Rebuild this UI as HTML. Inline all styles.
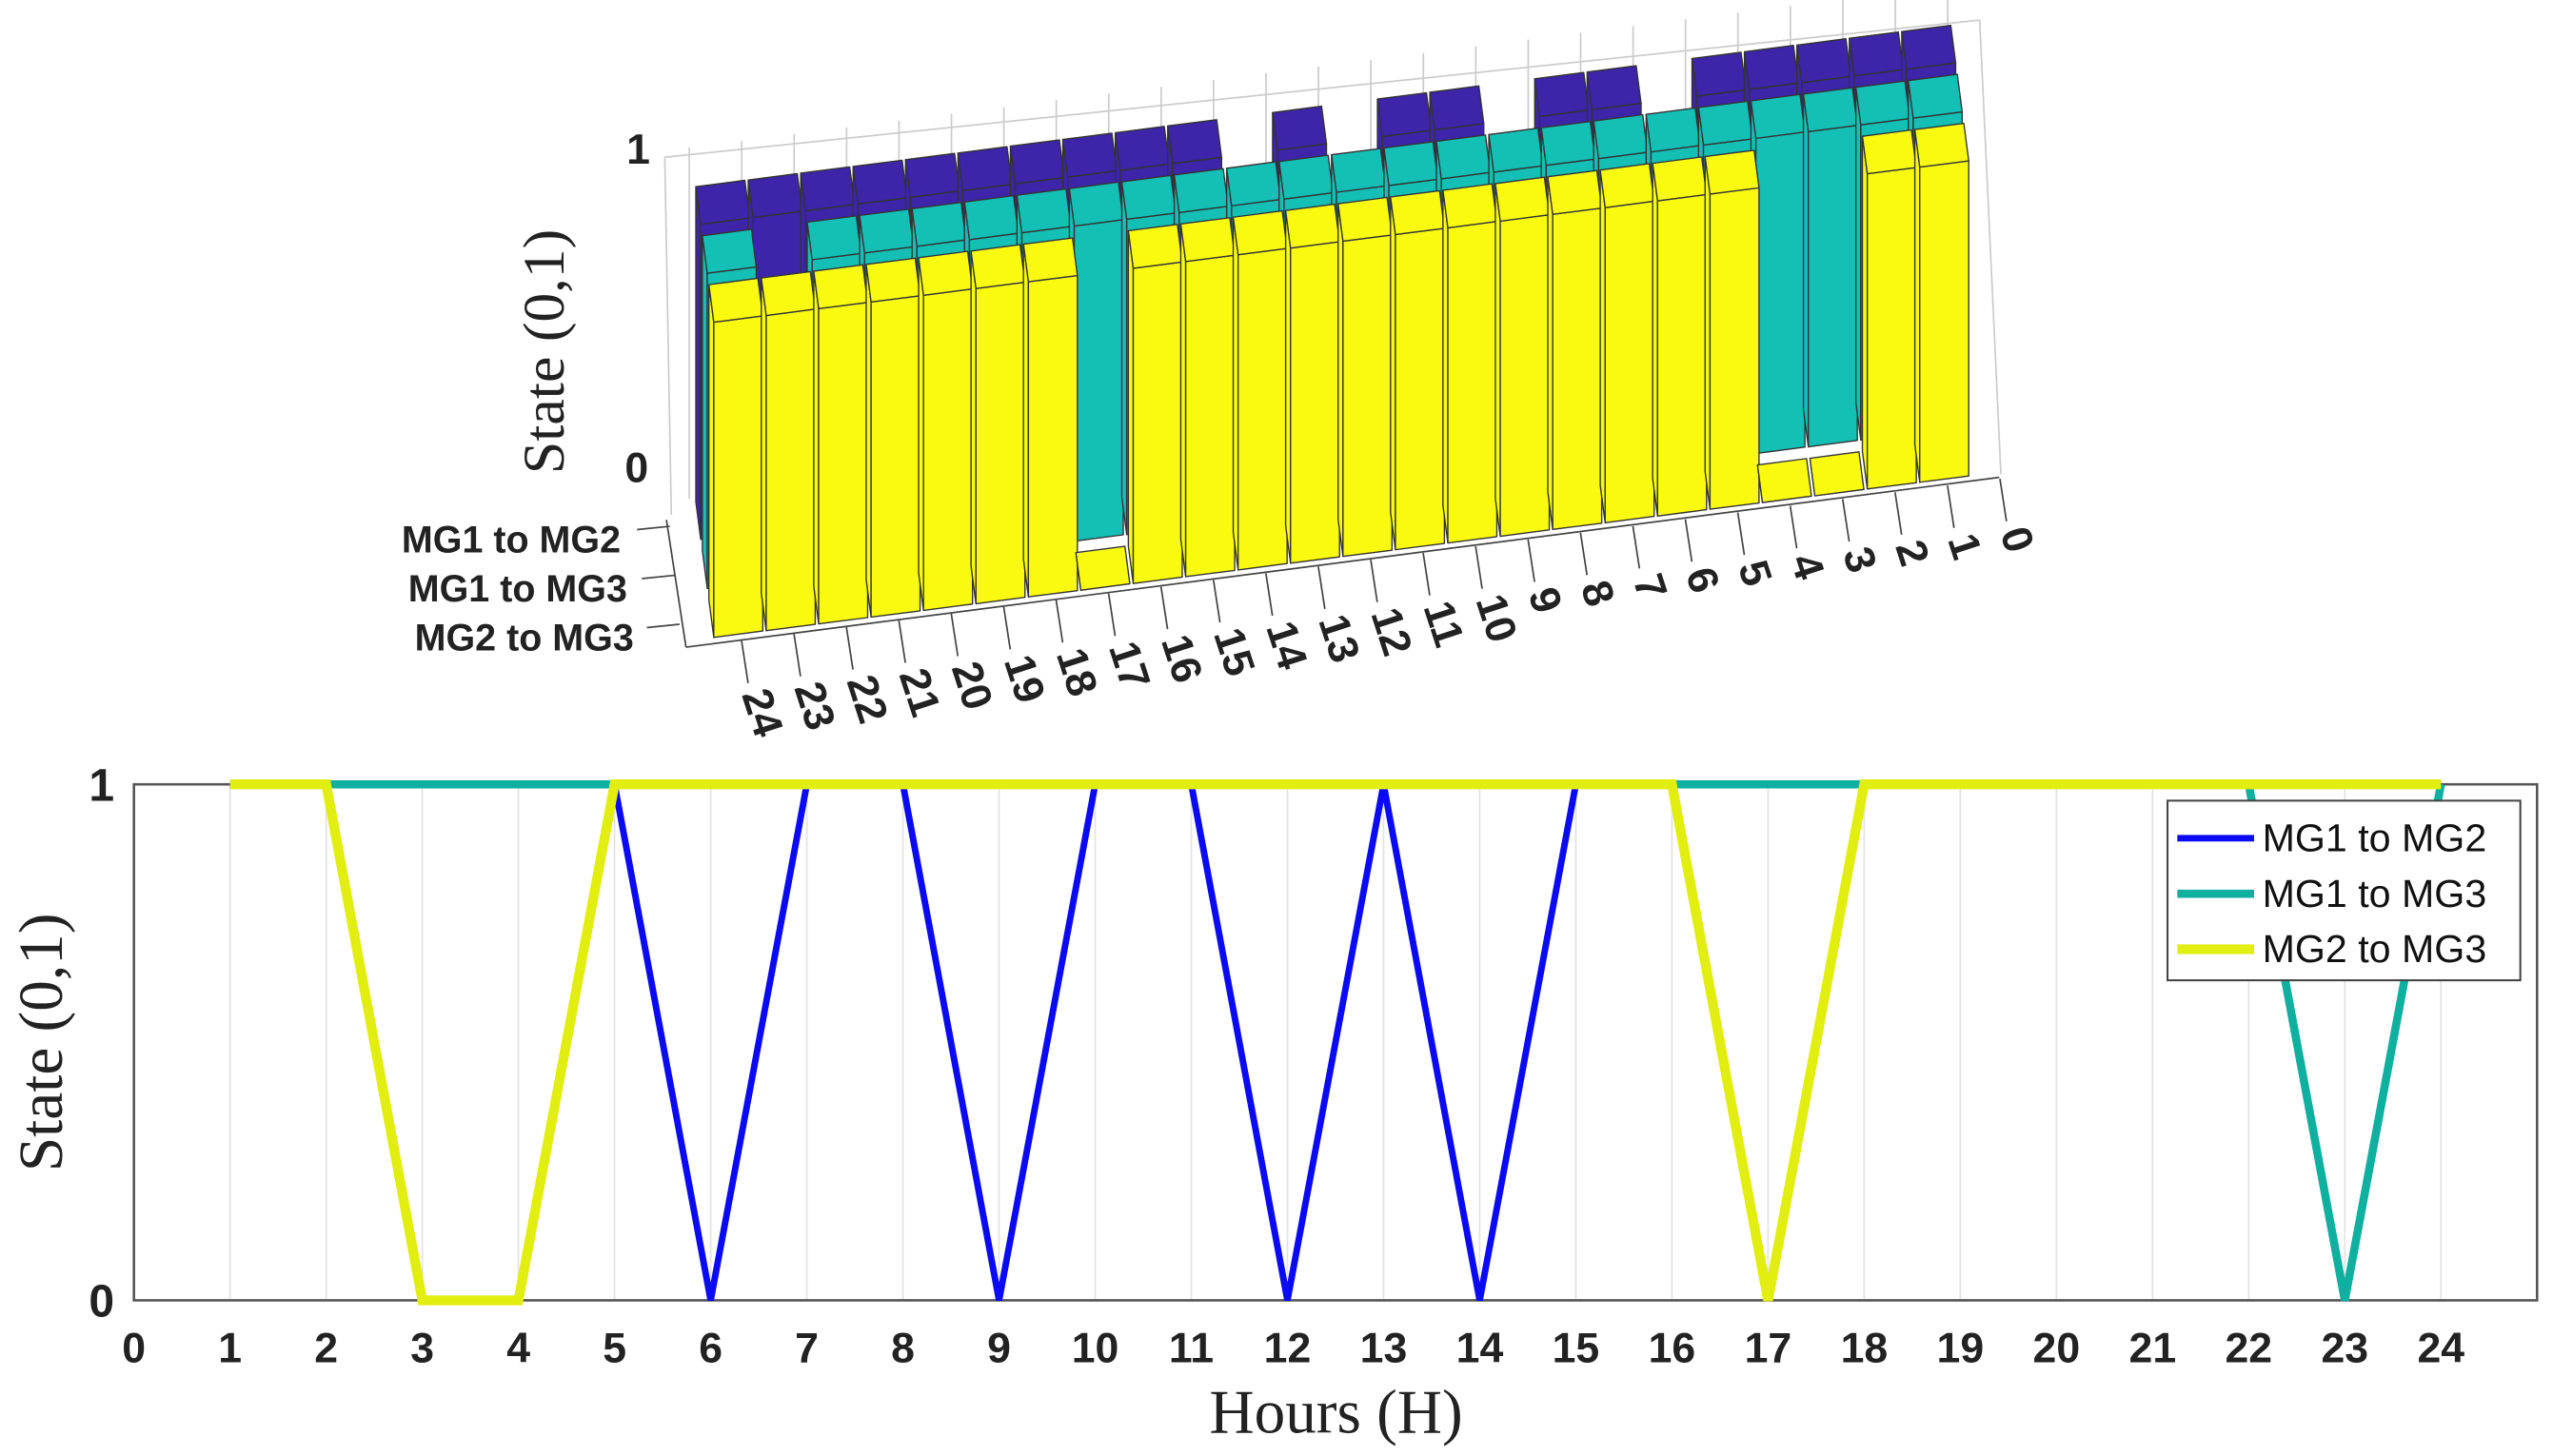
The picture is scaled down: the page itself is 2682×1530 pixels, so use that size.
<!DOCTYPE html>
<html><head><meta charset="utf-8"><style>
html,body{margin:0;padding:0;background:#fff;}
svg{display:block;}
</style></head><body>
<svg id="fig" width="2682" height="1530" viewBox="0 0 1563 891" xmlns="http://www.w3.org/2000/svg">
<g id="top3d"></g>
<g id="bottom"></g>
</svg>
<script>
const hours = [1,2,3,4,5,6,7,8,9,10,11,12,13,14,15,16,17,18,19,20,21,22,23,24];
const mg12 = [1,1,1,1,1,0,1,1,0,1,1,0,1,0,1,1,1,1,1,1,1,1,1,1];
const mg13 = [1,1,1,1,1,1,1,1,1,1,1,1,1,1,1,1,1,1,1,1,1,1,0,1];
const mg23 = [1,1,0,0,1,1,1,1,1,1,1,1,1,1,1,1,0,1,1,1,1,1,1,1];
const seriesNames = ["MG1 to MG2","MG1 to MG3","MG2 to MG3"];
const xTicks = [0,1,2,3,4,5,6,7,8,9,10,11,12,13,14,15,16,17,18,19,20,21,22,23,24];
const yTicks = [0,1];

const NS="http://www.w3.org/2000/svg";
function mk(tag,attrs,parent,text){const e=document.createElementNS(NS,tag);for(const k in attrs)e.setAttribute(k,attrs[k]);if(text!==undefined)e.textContent=text;parent.appendChild(e);return e;}
const SANS='"Liberation Sans", Arial, sans-serif';
const SERIF='"Liberation Serif", "DejaVu Serif", serif';

/* ---------- bottom 2D chart ---------- */
const B=document.getElementById('bottom');
const X0=82, XS=58.85, YT=480, YB=796;
const sx=v=>X0+v*XS, sy=v=>YB-(YB-YT)*v;
let r=mk('rect',{x:X0,y:YT,width:sx(25)-X0,height:YB-YT,fill:'#fff',stroke:'none'},B);


xTicks.forEach(t=>{ if(t>0){let g=mk('line',{x1:sx(t),x2:sx(t),y1:YT,y2:YB,stroke:'#e3e3e3','stroke-width':1},B);
 }
 let l=mk('text',{x:sx(t),y:834,'font-family':SANS,'font-size':26,'font-weight':'bold','text-anchor':'middle',fill:'#222'},B,String(t));
 });
yTicks.forEach(t=>{let l=mk('text',{x:70,y:sy(t)+10,'font-family':SANS,'font-size':28,'font-weight':'bold','text-anchor':'end',fill:'#222'},B,String(t));
 });
let bx=mk('rect',{x:X0,y:YT,width:sx(25)-X0,height:YB-YT,fill:'none',stroke:'#555','stroke-width':1.5},B);

const cols=['#0a0af5','#10b0a0','#e2ee10'];
const widths=[4,5,6];
[mg12,mg13,mg23].forEach((s,k)=>{
 const pts=hours.map((h,i)=>sx(h)+','+sy(s[i])).join(' ');
 let p=mk('polyline',{points:pts,fill:'none',stroke:cols[k],'stroke-width':widths[k],'stroke-linejoin':'miter'},B);
 
 
});
let xt=mk('text',{x:818,y:877,'font-family':SERIF,'font-size':38,'text-anchor':'middle',fill:'#222'},B,'Hours (H)');

let yt=mk('text',{x:0,y:0,transform:'translate(38,638) rotate(-90)','font-family':SERIF,'font-size':38,'text-anchor':'middle',fill:'#222'},B,'State (0,1)');

let lg=mk('g',{},B);

mk('rect',{x:1327,y:490,width:216,height:110,fill:'#fff',stroke:'#444','stroke-width':1.2},lg);
seriesNames.forEach((n,k)=>{
 let e=mk('g',{},lg);
 
 const yy=513+k*34;
 mk('line',{x1:1333,x2:1380,y1:yy,y2:yy,stroke:cols[k],'stroke-width':widths[k]},e);
 mk('text',{x:1385,y:yy+8,'font-family':SANS,'font-size':24,fill:'#111'},e,n);
});

/* ---------- top 3D bar chart ---------- */
const T=document.getElementById('top3d');
const BX0=437, BDX=32.1, BY0=390, BDY=-4.13, ZH=193, RDX=-4, RDY=-30, CAPX=-3, CAPY=-23, BW=30;
function P(i,rr,z,u,v){
 return [BX0+BDX*i+u*BW+RDX*rr+CAPX*v, BY0+BDY*i+(u*BW)*(BDY/BDX)+RDY*rr+CAPY*v - ZH*z];}
function poly(pts){return pts.map(p=>p[0].toFixed(1)+','+p[1].toFixed(1)).join(' ');}
let fr=mk('g',{stroke:'#ccc','stroke-width':1,fill:'none'},T);

mk('line',{x1:407,y1:96,x2:1212,y2:12},fr);
mk('line',{x1:407,y1:96,x2:411,y2:315},fr);
mk('line',{x1:1212,y1:12,x2:1225,y2:290},fr);
for(let h=0;h<=24;h++){const i=24-h;const x=BX0+BDX*i-1, y=BY0+BDY*i;
 mk('line',{x1:x-14,y1:y-85,x2:x-14,y2:y-300},fr);}
const rowsData=[mg23,mg13,mg12];
const rowCols=['#f9fa10','#14bfb5','#3d24a8'];
const rowNames=['mg2-mg3','mg1-mg3','mg1-mg2'];
for(let rr=2;rr>=0;rr--){
 for(let i=0;i<24;i++){
  const h=24-i; const z=rowsData[rr][hours.indexOf(h)];
  let g=mk('g',{stroke:'#333','stroke-width':0.8,'stroke-linejoin':'round'},T);
  
  
  const c=rowCols[rr];
  mk('polygon',{points:poly([P(i,rr,0,0,0),P(i,rr,0,0,1),P(i,rr,z,0,1),P(i,rr,z,0,0)]),fill:c},g);
  mk('polygon',{points:poly([P(i,rr,0,0,0),P(i,rr,0,1,0),P(i,rr,z,1,0),P(i,rr,z,0,0)]),fill:c},g);
  mk('polygon',{points:poly([P(i,rr,z,0,0),P(i,rr,z,1,0),P(i,rr,z,1,1),P(i,rr,z,0,1)]),fill:c},g);
 }
}
let ax=mk('g',{stroke:'#444','stroke-width':1,fill:'none'},T);

mk('line',{x1:420,y1:396,x2:1224,y2:292},ax);
mk('line',{x1:420,y1:396,x2:408,y2:318},ax);
for(let h=0;h<=24;h++){const i=24-h;const x=BX0+BDX*i+17, y=BY0+BDY*i+2;
 mk('line',{x1:x,y1:y,x2:x+4,y2:y+26},ax);
 let l=mk('text',{x:0,y:0,transform:`translate(${x},${y+33}) rotate(72)`,'font-family':SANS,'font-size':26,'font-weight':'bold',fill:'#222'},T,String(h));
 }
seriesNames.forEach((n,k)=>{const yy=330+k*30;
 mk('line',{x1:390+k*3,y1:yy-6,x2:410+k*3,y2:yy-8,stroke:'#444'},T);
 let l=mk('text',{x:380+k*4,y:yy+8,'font-family':SANS,'font-size':23,'font-weight':'bold','text-anchor':'end',fill:'#222'},T,n);
 });
[[0,397,295],[1,398,100]].forEach(([v,x,y])=>{let l=mk('text',{x:x,y:y,'font-family':SANS,'font-size':26,'font-weight':'bold','text-anchor':'end',fill:'#222'},T,String(v));
 });
let zt=mk('text',{x:0,y:0,transform:'translate(345,215) rotate(-90)','font-family':SERIF,'font-size':36,'text-anchor':'middle',fill:'#222'},T,'State (0,1)');

</script>
</body></html>
